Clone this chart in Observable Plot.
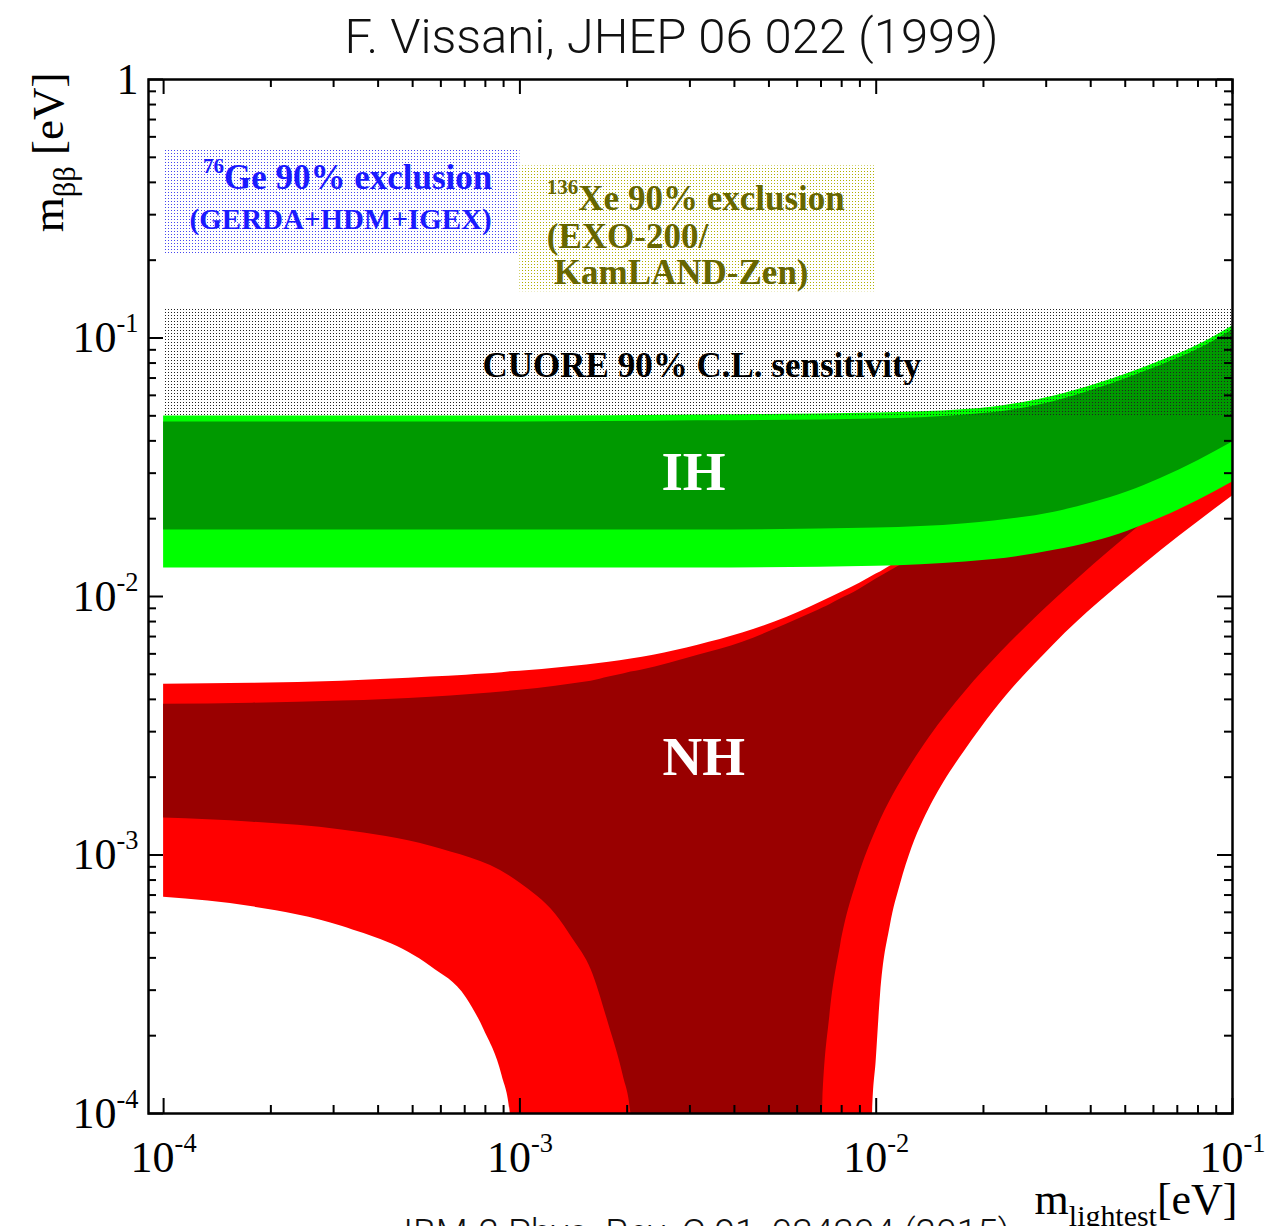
<!DOCTYPE html>
<html>
<head>
<meta charset="utf-8">
<script src="https://cdn.jsdelivr.net/npm/d3@7"></script>
<script src="https://cdn.jsdelivr.net/npm/@observablehq/plot@0.6"></script>
<style>
  html, body { margin: 0; padding: 0; background: #fff; overflow: hidden; }
</style>
</head>
<body>
<div id="chart"></div>
<script>
// ---- text ----
const title = "F. Vissani, JHEP 06 022 (1999)";
const caption = "IBM-2 Phys. Rev. C 91, 034304 (2015)";
const xTitle = "m_{lightest}[eV]";
const yTitle = "m_{ββ} [eV]";

// ---- axis ticks (eV) ----
const xMajor = [1e-4, 1e-3, 1e-2, 1e-1];
const yMajor = [1e-4, 1e-3, 1e-2, 1e-1, 1];
const minorSteps = [2, 3, 4, 5, 6, 7, 8, 9];

// ---- inverted hierarchy band: m_lightest vs m_bb (eV) ----
const ihMass    = [1e-4,   1e-3,   3.16e-3, 1e-2,   1.78e-2, 2.14e-2, 3.16e-2, 4.07e-2, 5.08e-2, 6.28e-2, 8.0e-2, 1e-1];
const ihOuterHi = [0.0499, 0.0499, 0.0504,  0.0513, 0.0529,  0.0541,  0.0597,  0.0658,  0.0729,  0.0815,  0.0940, 0.1114];
const ihInnerHi = [0.0473, 0.0473, 0.0478,  0.0486, 0.0504,  0.0515,  0.0568,  0.0630,  0.0701,  0.0783,  0.0904, 0.1075];
const ihInnerLo = [0.0181, 0.0181, 0.0181,  0.0184, 0.0191,  0.0196,  0.0212,  0.0231,  0.0254,  0.0286,  0.0335, 0.0396];
const ihOuterLo = [0.0129, 0.0129, 0.0129,  0.0131, 0.0136,  0.0139,  0.0151,  0.0163,  0.0179,  0.0201,  0.0235, 0.0277];

// ---- normal hierarchy, outer band (a lower edge of 0 means full cancellation) ----
const nhOuterMass = [1e-4, 1.778e-4, 3.162e-4, 5.623e-4, 7.079e-4, 7.943e-4, 8.913e-4, 9.4e-4, 1e-3, 1.334e-3, 1.778e-3,
                     2.371e-3, 3.162e-3, 4.217e-3, 5.623e-3, 7.499e-3, 9.55e-3, 9.77e-3, 1e-2, 1.028e-2, 1.096e-2,
                     1.17e-2, 1.259e-2, 1.358e-2, 1.449e-2, 1.549e-2, 1.778e-2, 2.138e-2, 3.162e-2, 5.623e-2, 1e-1];
const nhOuterLo   = [6.86e-4, 6.3e-4, 5.3e-4, 3.7e-4, 2.8e-4, 2.1e-4, 1.4e-4, 1.0e-4, 0, 0, 0,
                     0, 0, 0, 0, 0, 0, 1.0e-4, 1.6e-4, 2.86e-4, 5.34e-4,
                     7.7e-4, 1.062e-3, 1.362e-3, 1.628e-3, 1.912e-3, 2.543e-3, 3.6e-3, 6.54e-3, 1.323e-2, 2.45e-2];
const nhOuterHi   = [4.58e-3, 4.62e-3, 4.70e-3, 4.88e-3, 4.96e-3, 5.01e-3, 5.075e-3, 5.11e-3, 5.14e-3, 5.33e-3, 5.57e-3,
                     5.93e-3, 6.48e-3, 7.22e-3, 8.32e-3, 9.95e-3, 1.178e-2, 1.20e-2, 1.221e-2, 1.243e-2, 1.311e-2,
                     1.383e-2, 1.46e-2, 1.553e-2, 1.638e-2, 1.744e-2, 1.98e-2, 2.3e-2, 3.4e-2, 5.8e-2, 1.02e-1];

// ---- normal hierarchy, inner band ----
const nhInnerMass = [1e-4, 1.778e-4, 3.162e-4, 5.623e-4, 1e-3, 1.259e-3, 1.413e-3, 1.585e-3, 1.778e-3, 1.95e-3, 2.05e-3,
                     2.188e-3, 3.162e-3, 4.217e-3, 5.623e-3, 6.8e-3, 6.9e-3, 7.08e-3, 7.41e-3, 7.94e-3, 8.91e-3,
                     1e-2, 1.12e-2, 1.26e-2, 1.41e-2, 1.78e-2, 2.24e-2, 3.16e-2, 4.47e-2, 5.62e-2, 1e-1];
const nhInnerLo   = [1.39e-3, 1.34e-3, 1.25e-3, 1.08e-3, 7.8e-4, 5.9e-4, 4.7e-4, 3.6e-4, 2.2e-4, 1.4e-4, 1.0e-4,
                     0, 0, 0, 0, 0, 3.9e-5, 1.09e-4, 2.38e-4, 4.45e-4, 8.2e-4,
                     1.25e-3, 1.72e-3, 2.26e-3, 2.85e-3, 4.29e-3, 6.08e-3, 9.67e-3, 1.48e-2, 1.93e-2, 3.63e-2];
const nhInnerHi   = [3.83e-3, 3.867e-3, 3.94e-3, 4.08e-3, 4.34e-3, 4.50e-3, 4.60e-3, 4.70e-3, 4.88e-3, 5.01e-3, 5.10e-3,
                     5.19e-3, 5.93e-3, 6.66e-3, 7.82e-3, 8.78e-3, 8.86e-3, 9.02e-3, 9.30e-3, 9.77e-3, 1.059e-2,
                     1.168e-2, 1.277e-2, 1.402e-2, 1.539e-2, 1.9e-2, 2.35e-2, 3.2e-2, 4.5e-2, 5.6e-2, 9.8e-2];

// ---- experimental limits / sensitivity ----
const limitIds    = ["ge", "xe", "cuore"];
const limitMassLo = [1e-4, 1e-3, 1e-4];
const limitMassHi = [1e-3, 1e-2, 1e-1];
const limitMbbLo  = [0.21, 0.151, 0.050];
const limitMbbHi  = [0.535, 0.463, 0.131];

// ---- build tables ----
const band = (mass, lo, hi) => mass.map((m, i) => ({m, lo: lo[i], hi: hi[i]}));
const ihOuter = band(ihMass, ihOuterLo, ihOuterHi);
const ihInner = band(ihMass, ihInnerLo, ihInnerHi);
const nhOuter = band(nhOuterMass, nhOuterLo, nhOuterHi);
const nhInner = band(nhInnerMass, nhInnerLo, nhInnerHi);
const limits = limitIds.map((id, i) => ({id, x1: limitMassLo[i], x2: limitMassHi[i], y1: limitMbbLo[i], y2: limitMbbHi[i]}));
const minorOf = (majors) => majors.slice(0, -1).flatMap(d => minorSteps.map(k => k * d));
const xMinor = minorOf(xMajor);
const yMinor = minorOf(yMajor);

const serif = "'Liberation Serif', 'Times New Roman', serif";
const sans = "Roboto, 'Liberation Sans', sans-serif";
const FLOOR = 1e-6; // zero lower bounds sit below the axis and get clipped

const W = 1272, H = 1226;
const M = {top: 79, right: 40, bottom: 113, left: 148};
const FW = W - M.left - M.right, FH = H - M.top - M.bottom;
const majorLen = 15, minorLen = 8;

const pow10 = d => d === 1 ? "1" : `10^{${Math.round(Math.log10(d))}}`;
const areaOf = (data, fill) => Plot.areaY(data, {x: "m", y1: d => Math.max(d.lo, FLOOR), y2: "hi", fill, curve: "monotone-x", clip: true});
const limitRect = (id, fill) => Plot.rect(limits.filter(d => d.id === id), {x1: "x1", x2: "x2", y1: "y1", y2: "y2", fill});
const label = (x, y, text, o) => Plot.text([{x, y}], {x: "x", y: "y", text: () => text, fontFamily: serif, fontWeight: "bold", ...o});

const svg = Plot.plot({
  width: W, height: H,
  marginTop: M.top, marginRight: M.right, marginBottom: M.bottom, marginLeft: M.left,
  x: {type: "log", domain: [9.07e-5, 0.1]},
  y: {type: "log", domain: [1e-4, 1]},
  style: {background: "white", color: "black"},
  marks: [
    limitRect("ge", "url(#geDots)"),
    limitRect("xe", "url(#xeDots)"),
    areaOf(nhOuter, "#ff0000"),
    areaOf(nhInner, "#990000"),
    areaOf(ihOuter, "#00ff00"),
    areaOf(ihInner, "#009900"),
    limitRect("cuore", "url(#cuoreDots)"),

    // annotations
    label(3.284e-4, 0.417, "^{76}Ge 90% exclusion", {fontSize: 35, fill: "#1a1aff"}),
    label(3.14e-4, 0.286, "(GERDA+HDM+IGEX)", {fontSize: 29, fill: "#1a1aff"}),
    label(1.19e-3, 0.3455, "^{136}Xe 90% exclusion", {fontSize: 35, fill: "#666600", textAnchor: "start"}),
    label(1.19e-3, 0.246, "(EXO-200/", {fontSize: 35, fill: "#666600", textAnchor: "start"}),
    label(1.245e-3, 0.1786, "KamLAND-Zen)", {fontSize: 35, fill: "#666600", textAnchor: "start"}),
    label(3.24e-3, 0.078, "CUORE 90% C.L. sensitivity", {fontSize: 35, fill: "black"}),
    label(3.07e-3, 0.0301, "IH", {fontSize: 55, fill: "white"}),
    label(3.28e-3, 2.39e-3, "NH", {fontSize: 55, fill: "white"}),

    // inward ticks on all four sides
    Plot.tickX(xMajor, {x: d => d, insetTop: FH - majorLen, strokeWidth: 2}),
    Plot.tickX(xMajor, {x: d => d, insetBottom: FH - majorLen, strokeWidth: 2}),
    Plot.tickX(xMinor, {x: d => d, insetTop: FH - minorLen, strokeWidth: 2}),
    Plot.tickX(xMinor, {x: d => d, insetBottom: FH - minorLen, strokeWidth: 2}),
    Plot.tickY(yMajor, {y: d => d, insetRight: FW - majorLen, strokeWidth: 2}),
    Plot.tickY(yMajor, {y: d => d, insetLeft: FW - majorLen, strokeWidth: 2}),
    Plot.tickY(yMinor, {y: d => d, insetRight: FW - minorLen, strokeWidth: 2}),
    Plot.tickY(yMinor, {y: d => d, insetLeft: FW - minorLen, strokeWidth: 2}),
    Plot.frame({stroke: "black", strokeWidth: 2.5}),

    // tick labels
    Plot.axisX({ticks: xMajor, tickFormat: pow10, tickSize: 0, tickPadding: 27, label: null, fontSize: 44, fontFamily: serif}),
    Plot.axisY({ticks: yMajor, tickFormat: pow10, tickSize: 0, tickPadding: 10, label: null, fontSize: 44, fontFamily: serif}),

    // axis titles, title and source line
    Plot.text([xTitle], {frameAnchor: "bottom-right", text: d => d, dx: 5, dy: 100, textAnchor: "end", lineAnchor: "bottom", fontSize: 44, fontFamily: serif}),
    Plot.text([yTitle], {frameAnchor: "top-left", text: d => d, dx: -86, dy: -7, rotate: -90, textAnchor: "end", lineAnchor: "bottom", fontSize: 45, fontFamily: serif}),
    Plot.text([title], {frameAnchor: "top", text: d => d, dx: -19, dy: -27, lineAnchor: "bottom", fontSize: 49, fontFamily: sans, fontWeight: 300, fill: "#111"}),
    Plot.text([caption], {frameAnchor: "bottom", text: d => d, dx: 16, dy: 131, lineAnchor: "bottom", fontSize: 37, fontFamily: sans, fontWeight: 300, fill: "#111"})
  ]
});

// dotted fill patterns
const NS = "http://www.w3.org/2000/svg";
const defs = document.createElementNS(NS, "defs");
for (const [id, color] of [["cuoreDots", "#222"], ["geDots", "#4646f0"], ["xeDots", "#b0b000"]]) {
  const p = document.createElementNS(NS, "pattern");
  p.setAttribute("id", id);
  p.setAttribute("width", 3);
  p.setAttribute("height", 3);
  p.setAttribute("patternUnits", "userSpaceOnUse");
  const r = document.createElementNS(NS, "rect");
  r.setAttribute("width", 1);
  r.setAttribute("height", 1);
  r.setAttribute("fill", color);
  p.appendChild(r);
  defs.appendChild(p);
}
svg.insertBefore(defs, svg.firstChild);
document.getElementById("chart").appendChild(svg);

// turn ^{..} and _{..} into raised / lowered tspans
svg.querySelectorAll("text").forEach(t => {
  const s = t.textContent;
  if (!/[\^_]\{/.test(s)) return;
  const fs = parseFloat(getComputedStyle(t).fontSize);
  const parts = s.split(/([\^_]\{[^}]*\})/).filter(p => p);
  t.textContent = "";
  let shift = 0;
  for (const p of parts) {
    const ts = document.createElementNS(NS, "tspan");
    let target = 0, size = fs, txt = p;
    if (p.startsWith("^{")) { target = -0.45 * fs; size = 0.6 * fs; txt = p.slice(2, -1); }
    else if (p.startsWith("_{")) { target = 0.28 * fs; size = 0.68 * fs; txt = p.slice(2, -1); }
    ts.setAttribute("dy", target - shift);
    ts.setAttribute("font-size", size);
    ts.textContent = txt;
    shift = target;
    t.appendChild(ts);
  }
});
</script>
</body>
</html>
